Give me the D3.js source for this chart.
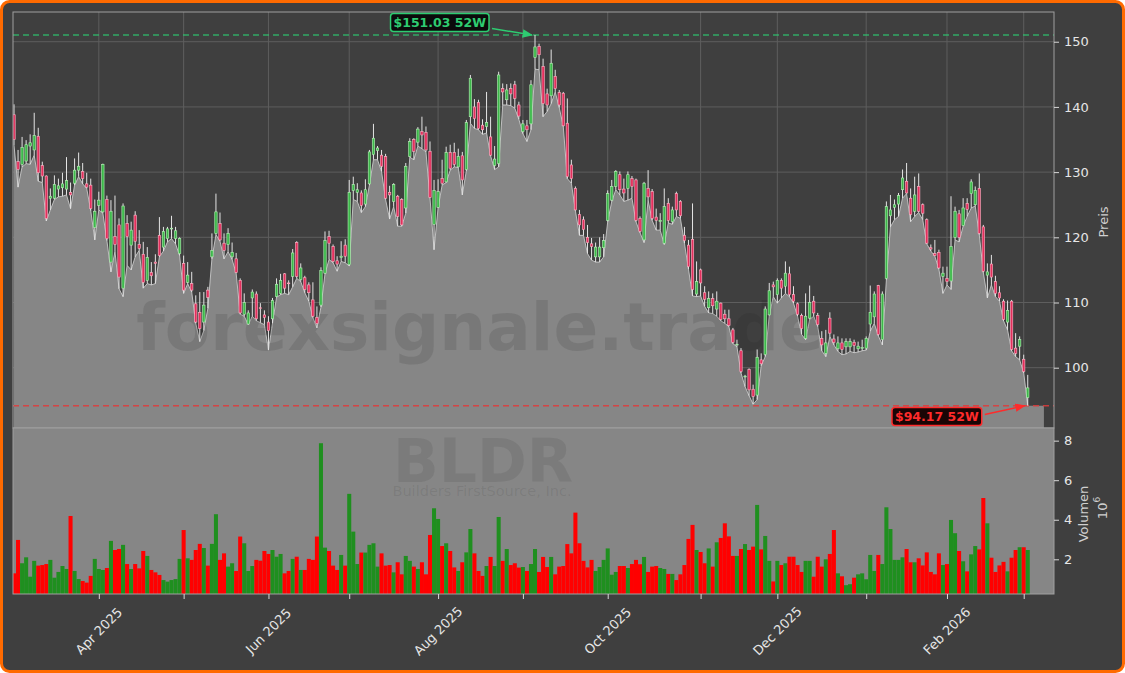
<!DOCTYPE html>
<html><head><meta charset="utf-8">
<script src="https://cdn.jsdelivr.net/npm/d3@7"></script>
<style>
html,body{margin:0;padding:0;background:#ffffff;}
svg{display:block;}
text{font-family:"DejaVu Sans",sans-serif;}
</style></head>
<body><svg id="chart" width="1125" height="673"></svg>
<script>
// ---------------- data ----------------
const startDate = "2025-03-03";
const endDate = "2026-03-03";
const holidays = ["2025-04-18","2025-05-26","2025-06-19","2025-07-04","2025-09-01","2025-11-27","2025-12-25","2026-01-01","2026-01-19","2026-02-16"];
const ticker = "BLDR";
const companyName = "Builders FirstSource, Inc.";
const watermark = "forexsignale.trade";
const priceTicks = [100,110,120,130,140,150];
const volumeTicks = [2,4,6,8];
const priceLabel = "Preis";
const volumeLabel = "Volumen";

const opens = [138.8,131.6,131.2,131.7,134.0,133.4,135.5,131.0,129.4,126.0,
126.0,127.4,127.6,127.4,126.9,128.3,130.3,130.1,128.2,128.0,
121.5,124.9,123.9,125.8,116.2,120.1,121.9,112.2,122.1,118.8,
123.4,118.9,117.4,113.4,114.6,116.2,120.3,118.5,119.8,121.3,
119.8,117.5,116.0,113.1,112.9,109.8,108.5,107.0,111.9,117.0,
120.6,122.1,119.1,118.9,117.0,116.7,113.4,108.2,106.7,110.7,
111.3,109.2,108.1,107.0,107.5,110.9,111.4,114.4,113.0,114.0,
119.2,113.5,113.8,112.7,110.4,107.7,109.6,114.5,120.1,118.6,
116.4,116.9,118.8,115.8,127.2,126.9,126.8,125.1,128.2,132.7,
133.3,132.6,132.4,126.9,125.5,126.3,125.8,124.5,132.4,135.0,
134.6,136.2,136.1,133.2,122.0,124.6,129.0,128.5,133.0,133.0,
130.8,132.5,130.4,138.5,140.0,140.7,137.2,137.0,135.4,131.0,
131.3,142.8,141.1,142.8,143.4,140.3,136.2,137.1,137.4,147.6,
149.3,146.2,142.0,141.7,144.7,142.2,142.1,137.5,131.1,127.5,
123.5,122.7,120.0,119.0,117.0,117.0,118.4,122.6,125.7,127.8,
129.6,127.4,127.5,129.0,128.8,122.9,119.6,127.5,127.0,123.1,
122.4,119.1,125.2,122.4,126.7,125.5,120.3,118.8,119.7,111.3,
115.0,111.5,109.2,110.6,109.0,109.9,108.2,107.5,105.8,103.5,
102.6,98.6,99.7,96.7,95.8,101.2,102.0,108.1,112.7,111.2,
113.4,112.5,114.4,111.2,109.8,108.0,104.5,107.6,110.2,108.0,
104.5,102.2,107.6,104.4,102.9,103.8,103.2,103.2,103.9,102.9,
103.0,103.0,106.7,107.8,112.6,104.3,113.7,123.3,124.6,125.1,
127.3,128.6,126.0,124.0,127.8,125.0,122.7,118.4,117.5,117.7,
114.0,113.7,113.3,120.0,123.6,121.8,125.2,126.7,125.0,127.5,
121.6,114.2,115.9,113.2,111.5,110.2,107.0,110.2,103.0,103.3,
101.3,95.4];

const highs = [140.4,133.4,135.4,134.9,135.8,139.1,136.8,131.6,129.5,127.5,
129.5,129.0,129.9,132.3,128.4,132.1,133.0,131.4,129.9,129.0,
125.8,127.0,131.3,126.4,125.7,126.4,122.9,125.2,123.4,122.4,
124.0,121.1,119.3,118.5,116.2,117.4,123.1,121.6,121.6,123.3,
121.6,120.0,117.2,116.2,114.7,111.1,111.6,111.6,112.4,120.6,
126.7,123.8,120.6,121.4,119.2,117.6,113.7,111.4,108.8,112.0,
111.7,109.9,108.8,107.9,110.7,113.7,114.4,114.5,113.4,118.2,
119.4,116.0,114.1,113.1,113.1,109.4,115.4,120.9,121.0,118.9,
117.1,119.4,119.7,128.8,129.3,128.3,127.2,128.9,133.4,137.4,
134.0,133.4,132.8,127.9,128.3,126.5,126.0,131.4,135.2,135.2,
136.9,138.5,137.0,134.7,128.8,128.9,131.9,133.9,134.2,134.5,
133.6,133.1,138.0,144.9,141.2,141.1,138.1,142.3,138.5,134.0,
145.4,143.6,143.5,143.6,144.0,140.8,138.0,138.0,144.1,151.03,
149.7,147.4,142.8,148.8,145.7,142.6,142.3,141.3,131.9,127.8,
124.2,123.2,121.9,119.9,119.2,120.0,120.5,127.2,128.8,130.3,
130.1,129.0,130.1,129.4,129.0,123.2,128.5,130.3,127.4,124.4,
123.7,127.5,126.0,124.7,127.0,125.7,121.6,119.6,125.2,116.3,
115.2,112.5,111.7,111.4,111.7,110.0,108.9,108.9,106.1,104.3,
103.0,98.9,99.9,97.4,102.8,102.2,109.4,113.0,113.2,113.7,
113.7,116.3,115.5,112.5,110.0,108.3,111.4,112.6,111.0,108.4,
105.6,105.8,108.5,105.1,104.8,104.5,104.5,104.5,104.3,104.0,
104.3,104.8,112.6,111.7,112.7,111.7,125.5,126.5,125.8,126.8,
130.4,131.4,127.5,129.3,129.8,125.2,122.9,118.9,119.6,118.1,
115.5,115.5,126.3,124.7,124.2,126.0,126.0,128.9,127.8,129.8,
121.9,116.0,117.3,114.1,112.5,110.5,110.3,110.4,105.3,104.8,
102.0,98.9];

const lows = [134.1,127.7,130.8,131.3,131.2,132.6,128.6,128.4,122.5,124.2,
125.8,126.2,126.3,126.5,124.4,128.0,129.3,128.2,127.5,124.1,
119.6,124.2,123.7,119.5,114.7,117.8,112.1,110.9,115.7,115.0,
117.0,118.0,112.2,112.9,112.7,112.9,117.0,117.9,119.3,119.8,
119.0,117.2,111.4,112.9,111.6,106.8,104.0,105.7,109.1,116.7,
120.4,119.4,116.7,117.8,116.6,114.5,108.2,107.9,106.6,107.9,
107.2,106.9,106.6,102.7,106.8,110.8,111.2,111.4,111.2,112.4,
113.7,113.2,111.5,110.2,107.7,106.1,109.3,114.4,116.6,116.1,
114.8,116.3,116.1,115.6,125.8,125.5,123.8,124.7,128.0,131.9,
131.9,130.1,125.8,122.8,124.7,121.7,121.7,123.7,132.3,131.9,
134.0,133.6,133.1,126.0,118.1,124.5,128.0,128.4,130.3,130.8,
130.7,126.5,130.2,137.5,136.7,136.5,135.8,136.0,132.5,130.4,
130.8,140.3,140.3,140.2,139.8,138.1,135.9,134.7,136.5,145.8,
145.7,138.5,139.3,140.5,142.3,139.9,137.0,129.0,128.3,124.1,
120.3,120.3,117.5,116.5,116.2,116.2,117.0,122.4,125.5,127.3,
126.5,125.5,125.7,126.0,122.4,120.7,119.2,125.7,122.6,121.1,
121.1,118.9,122.2,122.0,123.2,122.9,119.1,115.1,111.0,110.9,
111.0,109.4,108.4,108.3,107.9,107.2,106.8,106.3,103.7,103.2,
99.2,97.1,95.7,94.4,95.1,100.3,101.7,108.0,110.9,109.9,
110.7,111.4,110.9,109.9,107.9,105.1,104.3,107.4,107.9,106.3,
102.6,101.7,104.8,103.5,102.5,102.0,102.1,102.5,102.3,102.4,
102.6,102.7,105.6,106.8,104.9,103.5,113.5,121.6,122.7,123.2,
126.0,126.7,122.4,123.2,123.8,122.7,119.0,117.9,117.1,115.1,
111.4,112.7,112.0,119.6,119.3,121.7,123.2,124.5,124.8,120.4,
114.6,110.7,112.7,110.9,110.2,107.2,105.8,102.6,101.7,101.2,
99.2,94.17];

const closes = [135.0,130.4,133.8,134.2,134.5,135.6,129.9,129.4,122.9,126.3,
128.1,127.9,128.2,128.7,126.5,130.3,130.9,129.0,127.7,124.4,
124.0,125.7,131.2,119.8,124.0,118.9,113.9,124.8,120.1,121.1,
119.4,118.3,113.1,116.9,114.1,116.0,117.2,120.9,121.3,121.4,
121.0,119.8,111.9,114.2,111.9,107.0,106.0,109.6,110.8,118.0,
123.9,119.6,118.0,120.6,117.7,114.6,108.4,110.0,108.4,111.6,
107.5,109.1,107.7,105.7,110.3,112.8,113.4,112.2,112.9,117.6,
114.0,115.3,112.0,111.5,107.9,106.8,114.9,119.5,119.1,116.3,
115.9,117.1,117.1,126.9,128.1,127.3,124.9,127.3,133.1,135.2,
133.7,130.9,126.0,126.5,128.1,123.2,121.9,130.9,134.7,133.2,
136.6,135.7,133.4,126.1,127.2,127.0,128.3,133.0,130.6,131.2,
132.4,128.8,137.6,144.4,138.2,136.7,136.5,137.6,132.6,132.0,
144.9,142.3,142.6,142.0,141.3,138.6,137.4,136.5,143.4,149.2,
148.0,140.5,140.3,146.7,142.8,140.3,137.1,129.3,129.0,124.2,
121.9,121.2,119.2,118.6,118.5,118.5,119.5,126.7,127.8,130.1,
127.3,126.8,129.6,127.8,122.6,120.9,128.3,126.2,122.9,122.6,
122.6,124.7,122.6,124.2,124.2,123.3,119.5,115.5,112.0,113.2,
113.0,110.5,110.6,109.5,110.2,107.4,107.5,106.5,103.9,103.6,
99.4,98.7,96.6,95.6,101.6,100.6,109.0,111.8,112.4,113.4,
112.2,114.5,111.2,110.2,108.2,106.0,107.9,110.0,108.4,106.6,
103.5,103.8,105.3,103.9,103.8,102.8,104.0,104.0,103.4,103.3,
103.1,104.5,108.5,111.3,105.1,111.3,124.7,124.2,125.0,126.4,
129.1,126.8,123.5,126.5,124.0,123.7,119.1,118.2,117.2,115.3,
114.5,113.2,118.6,124.0,120.0,124.5,124.3,128.5,127.2,120.6,
114.8,114.7,113.9,111.4,110.7,107.4,108.8,102.8,102.2,104.3,
99.4,96.9];

// volume in millions
const volumes = [1.29,2.98,1.80,2.10,1.12,1.92,1.68,1.71,1.76,1.97,
1.07,1.36,1.66,1.51,4.19,1.41,1.00,0.90,0.82,1.16,
2.02,1.51,1.46,1.56,2.93,2.47,2.52,2.73,1.76,1.51,
1.76,1.54,2.42,2.17,1.46,1.34,1.21,0.95,0.87,0.95,
1.00,2.02,3.48,2.05,1.97,2.47,2.78,2.57,1.68,2.78,
4.28,1.97,2.30,1.63,1.80,1.41,3.15,2.81,1.41,1.66,
1.97,1.93,2.42,2.27,2.47,2.13,2.27,1.29,1.41,2.02,
2.13,1.46,1.46,2.02,1.97,3.15,7.87,2.59,2.42,1.68,
1.46,2.22,1.68,5.31,3.40,1.76,2.34,2.34,2.73,2.81,
1.63,2.30,1.68,1.71,1.34,1.85,1.24,2.17,1.92,1.63,
1.51,1.85,1.24,3.23,4.58,4.04,2.67,2.81,2.42,1.59,
1.41,1.85,2.35,3.53,2.30,1.41,1.16,1.66,2.12,1.66,
4.14,1.92,2.52,1.71,1.80,1.58,1.61,1.41,1.76,2.52,
1.36,2.12,1.61,2.12,1.24,1.63,1.66,2.77,2.30,4.36,
2.81,1.92,1.59,1.97,1.41,1.61,1.97,2.55,1.22,1.36,
1.66,1.66,1.56,1.76,1.97,1.75,2.12,1.36,1.63,1.66,
1.56,1.51,1.26,1.26,0.95,1.24,1.71,3.03,3.74,2.47,
2.37,1.80,2.55,1.63,2.86,3.08,3.82,3.16,2.17,2.17,
2.52,2.77,2.47,2.64,4.75,2.50,3.18,1.92,0.88,1.92,
1.71,1.80,2.13,2.13,1.71,1.36,1.92,1.92,1.12,2.13,
1.63,2.00,2.27,3.48,1.29,1.14,0.69,0.74,1.07,1.24,
1.29,0.99,2.22,1.41,2.22,1.76,4.63,3.53,1.97,1.97,
2.10,2.52,1.85,1.85,2.05,1.69,2.35,1.36,1.24,2.30,
1.71,1.76,3.99,3.32,2.42,1.90,1.39,2.25,2.67,2.50,
5.10,3.82,2.08,1.36,1.69,1.87,1.39,2.08,2.47,2.61,
2.61,2.47];

// ---------------- trading calendar ----------------
const fmtDay = d3.timeFormat("%Y-%m-%d");
const holidaySet = new Set(holidays);
const dates = [];
{
  const end = new Date(endDate + "T12:00:00");
  for (let d = new Date(startDate + "T12:00:00"); d <= end; d.setDate(d.getDate() + 1)) {
    const dow = d.getDay();
    if (dow === 0 || dow === 6 || holidaySet.has(fmtDay(d))) continue;
    dates.push(new Date(d));
  }
}
const N = closes.length;

// ---------------- layout ----------------
const W = 1125, H = 673;
const P = {left: 13, right: 1054, top: 12, mid: 428, bottom: 594};
const C = {
  page: "#3f3f3f", border: "#ff6a00", grid: "#5e5e5e", area: "#868686", areaLine: "#cfcfcf",
  frame: "#a0a0a0", text: "#e6e6e6", label: "#d0d0d0",
  upBody: "#3cb84a", upEdge: "#b6f2b6", downBody: "#e32f5c", downEdge: "#ffb3c6", wick: "#e4e4e4",
  volUp: "#1f8f1f", volDown: "#ff0000",
  hi: "#2ecc71", lo: "#ff2b2b"
};

const svg = d3.select("#chart");
const x = d3.scaleLinear().domain([-0.25, 257.5]).range([P.left, P.right]);
const yP = d3.scaleLinear().domain([90.75, 154.56]).range([P.mid, P.top]);
const yV = d3.scaleLinear().domain([0.245, 8.64]).range([P.bottom, P.mid]);
const step = x(1) - x(0);

// month ticks: first trading day of each month
const monthIdx = [];
for (let i = 1; i < dates.length; i++) {
  if (dates[i].getMonth() !== dates[i - 1].getMonth()) monthIdx.push(i);
}
const fmtMonth = d3.timeFormat("%b %Y");

// background + border
svg.append("rect").attr("x", 1.5).attr("y", 1.5).attr("width", W - 3).attr("height", H - 3)
  .attr("rx", 8).attr("fill", C.page).attr("stroke", C.border).attr("stroke-width", 3);

const defs = svg.append("defs");
defs.append("clipPath").attr("id", "clipP").append("rect")
  .attr("x", P.left).attr("y", P.top).attr("width", P.right - P.left).attr("height", P.mid - P.top);
defs.append("clipPath").attr("id", "clipV").append("rect")
  .attr("x", P.left).attr("y", P.mid).attr("width", P.right - P.left).attr("height", P.bottom - P.mid);
[["arrHi", C.hi], ["arrLo", C.lo]].forEach(([id, col]) => {
  defs.append("marker").attr("id", id).attr("viewBox", "0 0 10 10").attr("refX", 9).attr("refY", 5)
    .attr("markerWidth", 7).attr("markerHeight", 7).attr("orient", "auto")
    .append("path").attr("d", "M0,1 L10,5 L0,9 z").attr("fill", col);
});

// ---------------- price panel ----------------
const gp = svg.append("g").attr("clip-path", "url(#clipP)");
gp.append("g").selectAll("line.h").data(priceTicks).join("line")
  .attr("x1", P.left).attr("x2", P.right).attr("y1", d => yP(d)).attr("y2", d => yP(d))
  .attr("stroke", C.grid).attr("stroke-width", 1);
gp.append("g").selectAll("line.v").data(monthIdx).join("line")
  .attr("x1", d => x(d)).attr("x2", d => x(d)).attr("y1", P.top).attr("y2", P.mid)
  .attr("stroke", C.grid).attr("stroke-width", 1);

// area under the lows (extended flat a few sessions past the last bar)
const areaPts = lows.map((v, i) => [i, v]);
areaPts.push([N - 1 + 4, lows[N - 1]]);
gp.append("path").datum(areaPts)
  .attr("d", d3.area().x(d => x(d[0])).y0(P.mid).y1(d => yP(d[1])))
  .attr("fill", C.area);
gp.append("path").datum(lows.map((v, i) => [i, v]))
  .attr("d", d3.line().x(d => x(d[0])).y(d => yP(d[1])))
  .attr("fill", "none").attr("stroke", C.areaLine).attr("stroke-width", 1).attr("opacity", 0.85);

// watermark
gp.append("text").attr("x", 480).attr("y", 350).attr("text-anchor", "middle")
  .attr("font-size", 66).attr("font-weight", "bold").attr("fill", "rgba(30,30,30,0.13)").text(watermark);

// 52W lines
const hiIdx = d3.maxIndex(highs), loIdx = d3.minIndex(lows);
const hiVal = highs[hiIdx], loVal = lows[loIdx];
gp.append("line").attr("x1", P.left).attr("x2", P.right).attr("y1", yP(hiVal)).attr("y2", yP(hiVal))
  .attr("stroke", C.hi).attr("stroke-opacity", 0.75).attr("stroke-width", 1.5).attr("stroke-dasharray", "6,4");
gp.append("line").attr("x1", P.left).attr("x2", P.right).attr("y1", yP(loVal)).attr("y2", yP(loVal))
  .attr("stroke", "#e03a3a").attr("stroke-opacity", 0.85).attr("stroke-width", 1.5).attr("stroke-dasharray", "6,4");

// candles
const idx = d3.range(N);
const gc = gp.append("g");
gc.selectAll("line.wick").data(idx).join("line")
  .attr("x1", i => x(i)).attr("x2", i => x(i)).attr("y1", i => yP(highs[i])).attr("y2", i => yP(lows[i]))
  .attr("stroke", C.wick).attr("stroke-width", 1);
const bw = 2.4;
gc.selectAll("rect.body").data(idx).join("rect")
  .attr("x", i => x(i) - bw / 2).attr("width", bw)
  .attr("y", i => yP(Math.max(opens[i], closes[i])))
  .attr("height", i => Math.max(0.8, Math.abs(yP(opens[i]) - yP(closes[i]))))
  .attr("fill", i => closes[i] >= opens[i] ? C.upBody : C.downBody)
  .attr("stroke", i => closes[i] >= opens[i] ? C.upEdge : C.downEdge).attr("stroke-width", 0.6);

svg.append("rect").attr("x", P.left).attr("y", P.top).attr("width", P.right - P.left).attr("height", P.mid - P.top)
  .attr("fill", "none").attr("stroke", C.frame).attr("stroke-width", 1);

// ---------------- volume panel ----------------
const gv = svg.append("g").attr("clip-path", "url(#clipV)");
gv.append("rect").attr("x", P.left).attr("y", P.mid).attr("width", P.right - P.left).attr("height", P.bottom - P.mid)
  .attr("fill", C.area);
gv.append("text").attr("x", 483).attr("y", 482).attr("text-anchor", "middle")
  .attr("font-size", 60).attr("font-weight", "bold").attr("fill", "rgba(30,30,30,0.10)").text(ticker);
gv.append("text").attr("x", 482).attr("y", 496).attr("text-anchor", "middle")
  .attr("font-size", 14.5).attr("fill", "rgba(30,30,30,0.10)").text(companyName);
gv.selectAll("rect.vol").data(idx).join("rect")
  .attr("x", i => x(i) - step / 2).attr("width", step)
  .attr("y", i => yV(volumes[i])).attr("height", i => P.bottom - yV(volumes[i]))
  .attr("fill", i => closes[i] >= opens[i] ? C.volUp : C.volDown);
svg.append("rect").attr("x", P.left).attr("y", P.mid).attr("width", P.right - P.left).attr("height", P.bottom - P.mid)
  .attr("fill", "none").attr("stroke", C.frame).attr("stroke-width", 1);

// ---------------- axes ----------------
function styleAxis(g) {
  g.select(".domain").remove();
  g.selectAll(".tick line").attr("stroke", "#d8d8d8");
  g.selectAll(".tick text").attr("fill", C.text).attr("font-size", 13).attr("font-family", "DejaVu Sans");
}
svg.append("g").attr("transform", `translate(${P.right},0)`)
  .call(d3.axisRight(yP).tickValues(priceTicks).tickSize(5).tickPadding(5)).call(styleAxis);
svg.append("g").attr("transform", `translate(${P.right},0)`)
  .call(d3.axisRight(yV).tickValues(volumeTicks).tickSize(5).tickPadding(5).tickFormat(d3.format("d"))).call(styleAxis);
svg.append("g").attr("transform", `translate(0,${P.bottom})`)
  .call(d3.axisBottom(x).tickValues(monthIdx).tickSize(5).tickFormat("")).call(styleAxis);
svg.append("g").selectAll("text").data(monthIdx.filter((d, k) => k % 2 === 0)).join("text")
  .attr("transform", d => `translate(${x(d)},631) rotate(-45)`)
  .attr("text-anchor", "middle").attr("dominant-baseline", "central")
  .attr("fill", C.text).attr("font-size", 13).text(d => fmtMonth(dates[d]));

svg.append("text").attr("transform", "translate(1103,222) rotate(-90)").attr("text-anchor", "middle")
  .attr("dominant-baseline", "central").attr("fill", C.label).attr("font-size", 13).text(priceLabel);
svg.append("text").attr("transform", "translate(1083,514) rotate(-90)").attr("text-anchor", "middle")
  .attr("dominant-baseline", "central").attr("fill", C.label).attr("font-size", 13).text(volumeLabel);
const sci = svg.append("text").attr("transform", "translate(1102,508) rotate(-90)").attr("text-anchor", "middle")
  .attr("dominant-baseline", "central").attr("fill", C.label).attr("font-size", 13);
sci.append("tspan").text("10");
sci.append("tspan").attr("font-size", 9).attr("dy", -5).text("6");

// ---------------- 52W annotations ----------------
function annot(idxV, val, txt, col, bg, dyBox, marker) {
  const px = x(idxV), py = yP(val);
  const t = svg.append("text").attr("font-size", 12.5).attr("font-weight", "bold").attr("fill", col)
    .attr("text-anchor", "middle").attr("dominant-baseline", "central").text(txt);
  const tw = t.node().getComputedTextLength();
  const bwid = tw + 6, bh = 18;
  const right = px - 46, cy = py + dyBox;
  t.attr("x", right - bwid / 2).attr("y", cy);
  svg.insert("rect", () => t.node()).attr("x", right - bwid).attr("y", cy - bh / 2).attr("width", bwid).attr("height", bh)
    .attr("rx", 3).attr("fill", bg).attr("stroke", col).attr("stroke-width", 1.5);
  svg.append("line").attr("x1", right + 3).attr("y1", cy + (dyBox < 0 ? 6 : -2)).attr("x2", px - 3).attr("y2", py)
    .attr("stroke", col).attr("stroke-width", 1.5).attr("marker-end", `url(#${marker})`);
}
annot(hiIdx, hiVal, `$${hiVal.toFixed(2)} 52W`, C.hi, "#0b0b0b", -12.5, "arrHi");
annot(loIdx, loVal, `$${loVal.toFixed(2)} 52W`, C.lo, "#1a0505", 10.7, "arrLo");
</script>
</body></html>
